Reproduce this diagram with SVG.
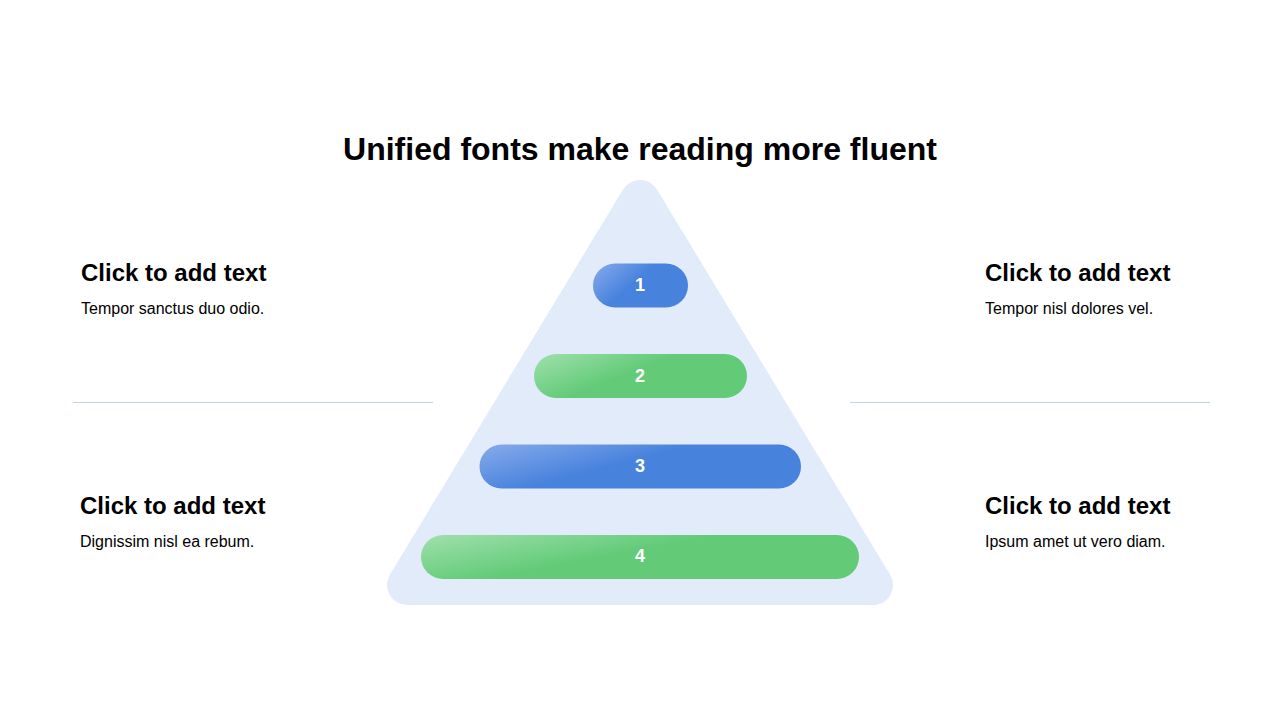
<svg xmlns="http://www.w3.org/2000/svg" width="1280" height="720" viewBox="0 0 1280 720">
<defs>
<linearGradient id="gBlue" x1="0" y1="0" x2="0.524" y2="0.278">
<stop offset="0" stop-color="#88abeb"/>
<stop offset="1" stop-color="#4782dd"/>
</linearGradient>
<linearGradient id="gGreen" x1="0" y1="0" x2="0.524" y2="0.278">
<stop offset="0" stop-color="#a0e0ad"/>
<stop offset="1" stop-color="#63cb78"/>
</linearGradient>
<style>
.title{font-family:"Liberation Sans",Arial,sans-serif;font-weight:bold;font-size:32px;fill:#000}
.head{font-family:"Liberation Sans",Arial,sans-serif;font-weight:bold;font-size:24px;fill:#000}
.body{font-family:"Liberation Sans",Arial,sans-serif;font-size:16px;fill:#000}
.num{font-family:"Liberation Sans",Arial,sans-serif;font-weight:bold;font-size:18px;fill:#fff;text-anchor:middle}
.sep{stroke:#bcd5f5;stroke-width:1.2}
</style>
</defs>
<rect width="1280" height="720" fill="#fff"/>
<text class="title" x="640" y="160" text-anchor="middle">Unified fonts make reading more fluent</text>
<g id="pyramid">
<polygon points="640,200 407,585 873,585" fill="#e2ebfa" stroke="#e2ebfa" stroke-width="40" stroke-linejoin="round"/>
</g>
<g id="connectors">
<line class="sep" x1="73" y1="402.5" x2="433" y2="402.5"/>
<line class="sep" x1="850" y1="402.5" x2="1210" y2="402.5"/>
</g>
<g id="level1">
<rect x="593" y="263.5" width="95" height="44" rx="22" fill="url(#gBlue)"/>
<text class="num" x="640" y="291">1</text>
</g>
<g id="level2">
<rect x="534" y="354" width="213" height="44" rx="22" fill="url(#gGreen)"/>
<text class="num" x="640" y="382">2</text>
</g>
<g id="level3">
<rect x="479.5" y="444.5" width="321.5" height="44" rx="22" fill="url(#gBlue)"/>
<text class="num" x="640" y="472">3</text>
</g>
<g id="level4">
<rect x="421" y="535" width="438" height="44" rx="22" fill="url(#gGreen)"/>
<text class="num" x="640" y="562">4</text>
</g>
<g id="text-top-left">
<text class="head" x="81" y="281">Click to add text</text>
<text class="body" x="81" y="314">Tempor sanctus duo odio.</text>
</g>
<g id="text-top-right">
<text class="head" x="985" y="281">Click to add text</text>
<text class="body" x="985" y="314">Tempor nisl dolores vel.</text>
</g>
<g id="text-bottom-left">
<text class="head" x="80" y="514">Click to add text</text>
<text class="body" x="80" y="547">Dignissim nisl ea rebum.</text>
</g>
<g id="text-bottom-right">
<text class="head" x="985" y="514">Click to add text</text>
<text class="body" x="985" y="547">Ipsum amet ut vero diam.</text>
</g>
</svg>
